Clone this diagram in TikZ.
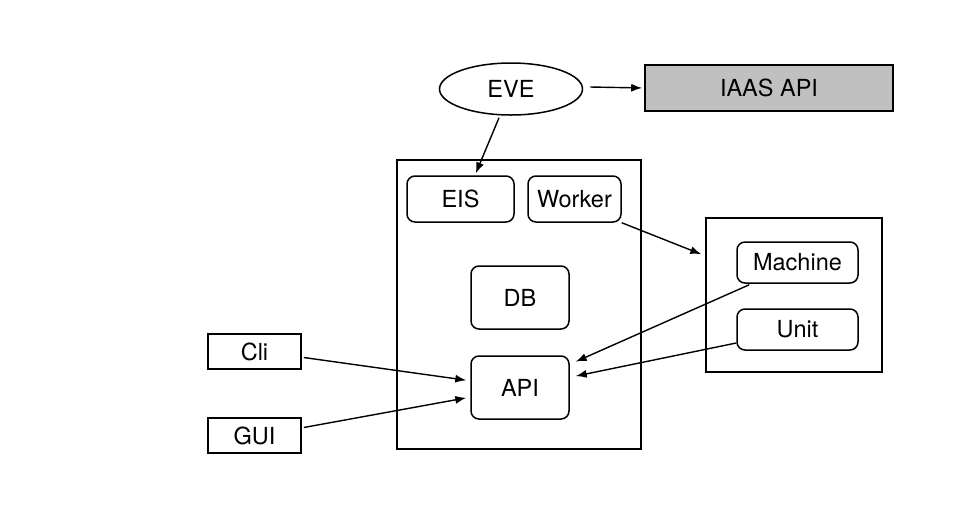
\documentclass[tikz,border=0pt]{standalone}
\usepackage{fontspec}
\setmainfont{TeX Gyre Heros}
\usepackage{xcolor}
\definecolor{box-gray}{RGB}{192,192,192}
\usepackage{tikz}
\usetikzlibrary{shapes.geometric,calc,arrows.meta}

\begin{document}
\begin{tikzpicture}[x=1pt,y=-1pt,
	>={Latex[length=11pt,width=8pt]},
	every node/.style={font=\fontsize{23.5}{27}\selectfont,inner sep=0pt},
	frame/.style={draw,line width=1.6pt},
	part/.style={draw,line width=1.5pt,rounded corners=8pt},
	link/.style={->,line width=1.4pt,shorten >=2pt},
	]
	\useasboundingbox (0,0) rectangle (967,515);
	
	\node[ellipse,draw,line width=1.5pt,minimum width=143pt,minimum height=52pt]
	(eve) at (511,89) {EVE};
	\node[frame,fill=box-gray,minimum width=248pt,minimum height=46pt]
	(iaas) at (769,88) {IAAS API};
	
%	================================================
	\node[frame,minimum width=244pt,minimum height=289pt] (core) at (519,304.5) {};
	\node[part,minimum width=107pt,minimum height=46pt] (eis) at (460.5,199) {EIS};
	\node[part,minimum width=93pt,minimum height=46pt] (worker) at (574.5,199) {Worker};
	\node[part,minimum width=98pt,minimum height=63pt] (db) at (520,297.5) {DB};
	\node[part,minimum width=98pt,minimum height=63pt] (api) at (520,387.5) {API};
	
	\node[frame,minimum width=176pt,minimum height=154pt] (ext) at (794,295) {};
	\node[part,minimum width=121pt,minimum height=41pt] (machine) at (797.5,262.5) {Machine};
	\node[part,minimum width=121pt,minimum height=41pt] (unit) at (797.5,329.5) {Unit};
	
	\node[frame,minimum width=93pt,minimum height=35pt] (cli) at (254.5,351.5) {Cli};
	\node[frame,minimum width=93pt,minimum height=35pt] (gui) at (254.5,435.5) {GUI};
	
%	================================================
	\draw[link] ($(eve.east)+(7,-2)$) -- (iaas.west);
	\draw[link] ($(eve.south)+(-12,2)$) -- ($(eis.north)+(14.5,0)$);
	\draw[link] (worker.south east) -- ($(ext.west)+(-2,-40)$);
	
	\draw[link] ($(machine.south west)+(13,1)$) -- ($(api.east)+(4,-25)$);
	\draw[link] ($(unit.west)+(0,13.5)$) -- ($(api.east)+(4,-11)$);
	\draw[link] ($(cli.east)+(2,6)$) -- ($(api.west)+(-2,-7)$);
	\draw[link] ($(gui.east)+(2,-8)$) -- ($(api.west)+(-2,10)$);
	
\end{tikzpicture}
\end{document}
